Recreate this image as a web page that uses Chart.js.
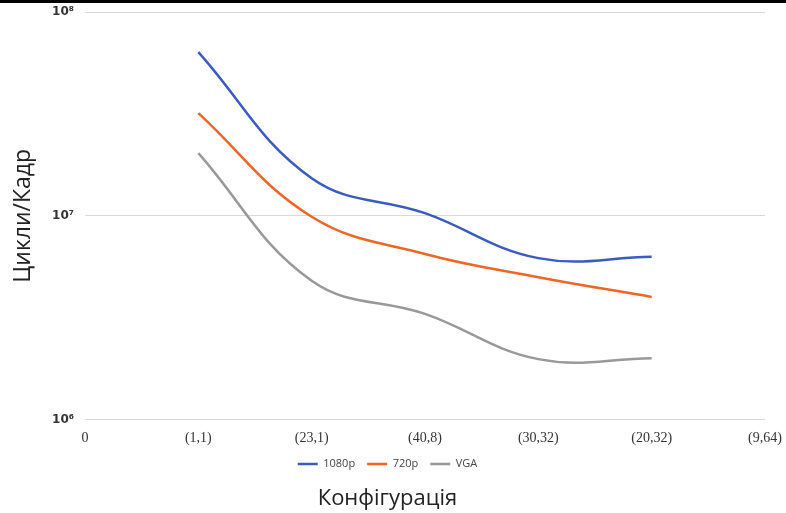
<!DOCTYPE html>
<html>
<head>
<meta charset="utf-8">
<script src="https://cdn.jsdelivr.net/npm/chart.js@4"></script>
<style>
    body { margin: 0; background: #fff; }
    #caja { position: relative; width: 786px; height: 513px; }
    #barra { position: absolute; left: 0; top: 0; width: 786px; height: 3px; background: #000; }
</style>
</head>
<body>
<div id="caja">
    <canvas id="grafico_ciclos" width="786" height="513"></canvas>
    <div id="barra"></div>
</div>
<script>
// DATOS
var configuraciones = ['0', '(1,1)', '(23,1)', '(40,8)', '(30,32)', '(20,32)', '(9,64)'];
var ciclos_1080p = [null, 6.36e7, 1.53e7, 1.03e7, 6.2e6, 6.3e6, null];
var ciclos_720p = [null, 3.19e7, 9.9e6, 6.5e6, 5.0e6, 4.0e6, null];
var ciclos_vga = [null, 2.03e7, 4.8e6, 3.3e6, 1.98e6, 2.0e6, null];
var ticks_y = [1e6, 1e7, 1e8];
var sup = { '6': '⁶', '7': '⁷', '8': '⁸' };

function Serie(label, data, color) {
    return {
        label: label,
        data: data,
        borderColor: color,
        backgroundColor: color,
        borderWidth: 2.5,
        pointRadius: 0,
        tension: 0.4,
        spanGaps: false
    };
}

var ctx = document.getElementById('grafico_ciclos').getContext('2d');
new Chart(ctx, {
    type: 'line',
    data: {
        labels: configuraciones,
        datasets: [
            Serie('1080p', ciclos_1080p, '#3a5cc0'),
            Serie('720p', ciclos_720p, '#ee6625'),
            Serie('VGA', ciclos_vga, '#999999')
        ]
    },
    options: {
        responsive: false,
        animation: false,
        layout: { padding: { top: 12, left: 10, right: 21, bottom: 1 } },
        plugins: {
            legend: {
                position: 'bottom',
                labels: {
                    boxWidth: 20,
                    boxHeight: 0,
                    padding: 12,
                    color: '#444',
                    font: { family: 'Open Sans', size: 11 }
                }
            },
            title: {
                display: true,
                position: 'bottom',
                text: 'Конфігурація',
                color: '#222',
                font: { family: 'Open Sans', size: 22, weight: 'normal' },
                padding: { top: 6, bottom: 0 }
            },
            tooltip: { enabled: false }
        },
        scales: {
            x: {
                type: 'category',
                offset: false,
                grid: { display: false },
                border: { display: false },
                ticks: {
                    padding: 2,
                    maxRotation: 0,
                    autoSkip: false,
                    color: '#333',
                    font: { family: 'Liberation Serif', size: 14 }
                },
                afterFit: function(scale) {
                    scale.height = 27;
                    scale.paddingLeft = 0;
                    scale.paddingRight = 0;
                }
            },
            y: {
                type: 'logarithmic',
                min: 1e6,
                max: 1e8,
                afterBuildTicks: function(scale) {
                    scale.ticks = ticks_y.map(function(v) { return { value: v }; });
                },
                grid: { color: '#d9d9d9', lineWidth: 1, drawTicks: false },
                border: { display: false },
                ticks: {
                    padding: 11,
                    color: '#333',
                    font: { family: 'DejaVu Sans', size: 12, weight: 'bold' },
                    callback: function(value) {
                        var e = String(Math.round(Math.log10(value)));
                        return '10' + sup[e];
                    }
                },
                title: {
                    display: true,
                    text: 'Цикли/Кадр',
                    color: '#222',
                    font: { family: 'Open Sans', size: 23 },
                    padding: { top: 0, bottom: 0 }
                },
                afterFit: function(scale) {
                    scale.width = 75;
                    scale.paddingTop = 0;
                    scale.paddingBottom = 0;
                }
            }
        }
    }
});
</script>
</body>
</html>
